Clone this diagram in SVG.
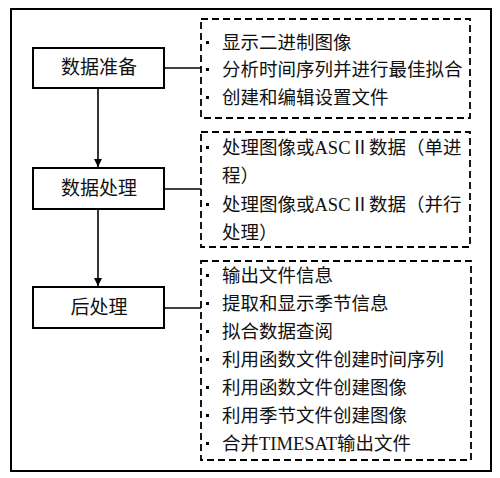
<svg xmlns="http://www.w3.org/2000/svg" width="500" height="478" viewBox="0 0 500 478">
<defs>
<style>
.frame{fill:none;stroke:#000;stroke-width:2}
.box{fill:#fff;stroke:#000;stroke-width:2}
.dash{fill:none;stroke:#000;stroke-width:1.8;stroke-dasharray:7,4}
.conn{fill:none;stroke:#000;stroke-width:1.6}
.lbl{font-family:"Liberation Serif","Noto Sans CJK SC",serif;font-size:19px;fill:#111;text-anchor:middle;dominant-baseline:central}
.item{font-family:"Liberation Serif","Noto Sans CJK SC",serif;font-size:18.5px;fill:#111;dominant-baseline:central}
.bul{fill:#000}
</style>
<marker id="arr" markerWidth="8" markerHeight="10" refX="8" refY="5" orient="auto" markerUnits="userSpaceOnUse">
<path d="M0,1 L8,5 L0,9 Z" fill="#000"/>
</marker>
</defs>
<rect x="0" y="0" width="500" height="478" fill="#fff"/>
<rect class="frame" x="11" y="9" width="480" height="462"/>

<g id="connectors">
<line class="conn" x1="98" y1="88" x2="98" y2="167" marker-end="url(#arr)"/>
<line class="conn" x1="98" y1="209" x2="98" y2="286" marker-end="url(#arr)"/>
<line class="conn" x1="165" y1="68" x2="201" y2="68"/>
<line class="conn" x1="165" y1="189" x2="201" y2="189"/>
<line class="conn" x1="165" y1="308" x2="201" y2="308"/>
</g>

<g id="node-prep">
<rect class="box" x="33" y="48" width="131" height="40"/>
<text class="lbl" x="99" y="67">数据准备</text>
</g>
<g id="node-proc">
<rect class="box" x="33" y="168" width="131" height="41"/>
<text class="lbl" x="99" y="188">数据处理</text>
</g>
<g id="node-post">
<rect class="box" x="33" y="287" width="131" height="41"/>
<text class="lbl" x="99" y="307">后处理</text>
</g>

<g id="list-prep">
<rect class="dash" x="201" y="19" width="269" height="99"/>
<rect class="bul" x="206" y="41" width="3" height="3"/>
<rect class="bul" x="206" y="68" width="3" height="3"/>
<rect class="bul" x="206" y="96" width="3" height="3"/>
<text class="item" x="222" y="43">显示二进制图像</text>
<text class="item" x="222" y="70">分析时间序列并进行最佳拟合</text>
<text class="item" x="222" y="98">创建和编辑设置文件</text>
</g>

<g id="list-proc">
<rect class="dash" x="201" y="132" width="269" height="115"/>
<rect class="bul" x="206" y="146" width="3" height="3"/>
<rect class="bul" x="206" y="203" width="3" height="3"/>
<text class="item" x="222" y="148">处理图像或ASCⅡ数据（单进</text>
<text class="item" x="222" y="176">程）</text>
<text class="item" x="222" y="205">处理图像或ASCⅡ数据（并行</text>
<text class="item" x="222" y="233">处理）</text>
</g>

<g id="list-post">
<rect class="dash" x="201" y="261" width="270" height="199"/>
<rect class="bul" x="206" y="274" width="3" height="3"/>
<rect class="bul" x="206" y="302" width="3" height="3"/>
<rect class="bul" x="206" y="330" width="3" height="3"/>
<rect class="bul" x="206" y="358" width="3" height="3"/>
<rect class="bul" x="206" y="386" width="3" height="3"/>
<rect class="bul" x="206" y="414" width="3" height="3"/>
<rect class="bul" x="206" y="442" width="3" height="3"/>
<text class="item" x="222" y="276">输出文件信息</text>
<text class="item" x="222" y="304">提取和显示季节信息</text>
<text class="item" x="222" y="332">拟合数据查阅</text>
<text class="item" x="222" y="360">利用函数文件创建时间序列</text>
<text class="item" x="222" y="388">利用函数文件创建图像</text>
<text class="item" x="222" y="416">利用季节文件创建图像</text>
<text class="item" x="222" y="444">合并TIMESAT输出文件</text>
</g>
</svg>
